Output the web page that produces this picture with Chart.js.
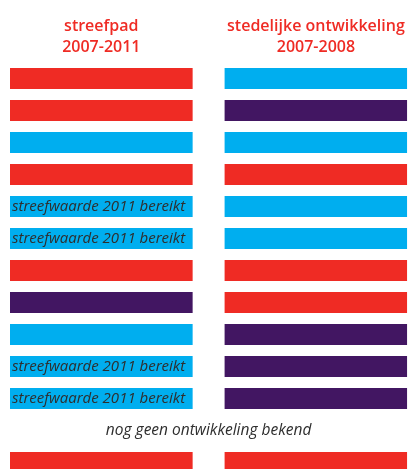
<!DOCTYPE html>
<html><head><meta charset="utf-8">
<script src="https://cdn.jsdelivr.net/npm/chart.js@4"></script>
<style>html,body{margin:0;padding:0;background:#fff;overflow:hidden}#wrap{position:relative;width:409px;height:480px}</style>
</head><body><div id="wrap"><canvas id="c"></canvas></div>
<script>
// Column headers
const columnTitles = [['streefpad', '2007-2011'], ['stedelijke ontwikkeling', '2007-2008']];
// Value span of each column on the x scale
const columnSpans = [[0, 1], [1.175, 2.175]];
// Rows
const rows = ['1', '2', '3', '4', '5', '6', '7', '8', '9', '10', '11', '12', '13'];
// Status per row (null = no bar)
const streefpad = ['rood', 'rood', 'blauw', 'rood', 'blauw', 'blauw', 'rood', 'paars', 'blauw', 'blauw', 'blauw', null, 'rood'];
const stedelijk = ['blauw', 'paars', 'blauw', 'rood', 'blauw', 'blauw', 'rood', 'rood', 'paars', 'paars', 'paars', null, 'rood'];
const barLabels = ['', '', '', '', 'streefwaarde 2011 bereikt', 'streefwaarde 2011 bereikt', '', '', '', 'streefwaarde 2011 bereikt', 'streefwaarde 2011 bereikt', '', ''];
const rowNotes = ['', '', '', '', '', '', '', '', '', '', '', 'nog geen ontwikkeling bekend', ''];

const palette = { rood: '#EF2B24', blauw: '#00AEEF', paars: '#421662' };
const RED = '#EF2B24';
const TXT = '#2e2e2e';

function spanData(statuses, span) { return statuses.map(s => s ? span : null); }
function colorData(statuses) { return statuses.map(s => s ? palette[s] : 'rgba(0,0,0,0)'); }

const labelPlugin = {
  id: 'labels',
  afterDatasetsDraw(chart) {
    const ctx = chart.ctx;
    const meta = chart.getDatasetMeta(0);
    const yScale = chart.scales.y;
    const area = chart.chartArea;
    ctx.save();
    ctx.fillStyle = TXT;
    ctx.textBaseline = 'middle';
    ctx.font = 'italic 15px "Open Sans"';
    barLabels.forEach((t, i) => {
      if (!t) return;
      const el = meta.data[i];
      const left = Math.min(el.x, el.base);
      ctx.textAlign = 'left';
      ctx.fillText(t, left + 2, el.y);
    });
    ctx.font = 'italic 15.5px "Open Sans"';
    rowNotes.forEach((t, i) => {
      if (!t) return;
      ctx.textAlign = 'center';
      ctx.fillText(t, (area.left + area.right) / 2, yScale.getPixelForValue(i));
    });
    ctx.restore();
  }
};

new Chart(document.getElementById('c'), {
  type: 'bar',
  data: {
    labels: rows,
    datasets: [
      { label: 'streefpad 2007-2011', data: spanData(streefpad, columnSpans[0]), backgroundColor: colorData(streefpad) },
      { label: 'stedelijke ontwikkeling 2007-2008', data: spanData(stedelijk, columnSpans[1]), backgroundColor: colorData(stedelijk) }
    ]
  },
  options: {
    indexAxis: 'y',
    responsive: true,
    maintainAspectRatio: false,
    animation: false,
    layout: { padding: { top: 11.3, left: 10, right: 1, bottom: 1.5 } },
    datasets: { bar: { grouped: false, barPercentage: 0.656, categoryPercentage: 1, borderWidth: 0 } },
    plugins: { legend: { display: false }, tooltip: { enabled: false } },
    scales: {
      y: { type: 'category', display: false, offset: true },
      x: {
        type: 'linear', position: 'top', min: columnSpans[0][0], max: columnSpans[1][1],
        grid: { display: false, drawTicks: false }, border: { display: false },
        afterBuildTicks: (axis) => { axis.ticks = columnSpans.map(s => ({ value: (s[0] + s[1]) / 2 })); },
        ticks: {
          autoSkip: false, maxRotation: 0, padding: 4, color: RED,
          font: { family: '"Open Sans"', size: 16, weight: '600', lineHeight: 1.35 },
          callback: (v, i) => columnTitles[i]
        }
      }
    }
  },
  plugins: [labelPlugin]
});
</script></body></html>
